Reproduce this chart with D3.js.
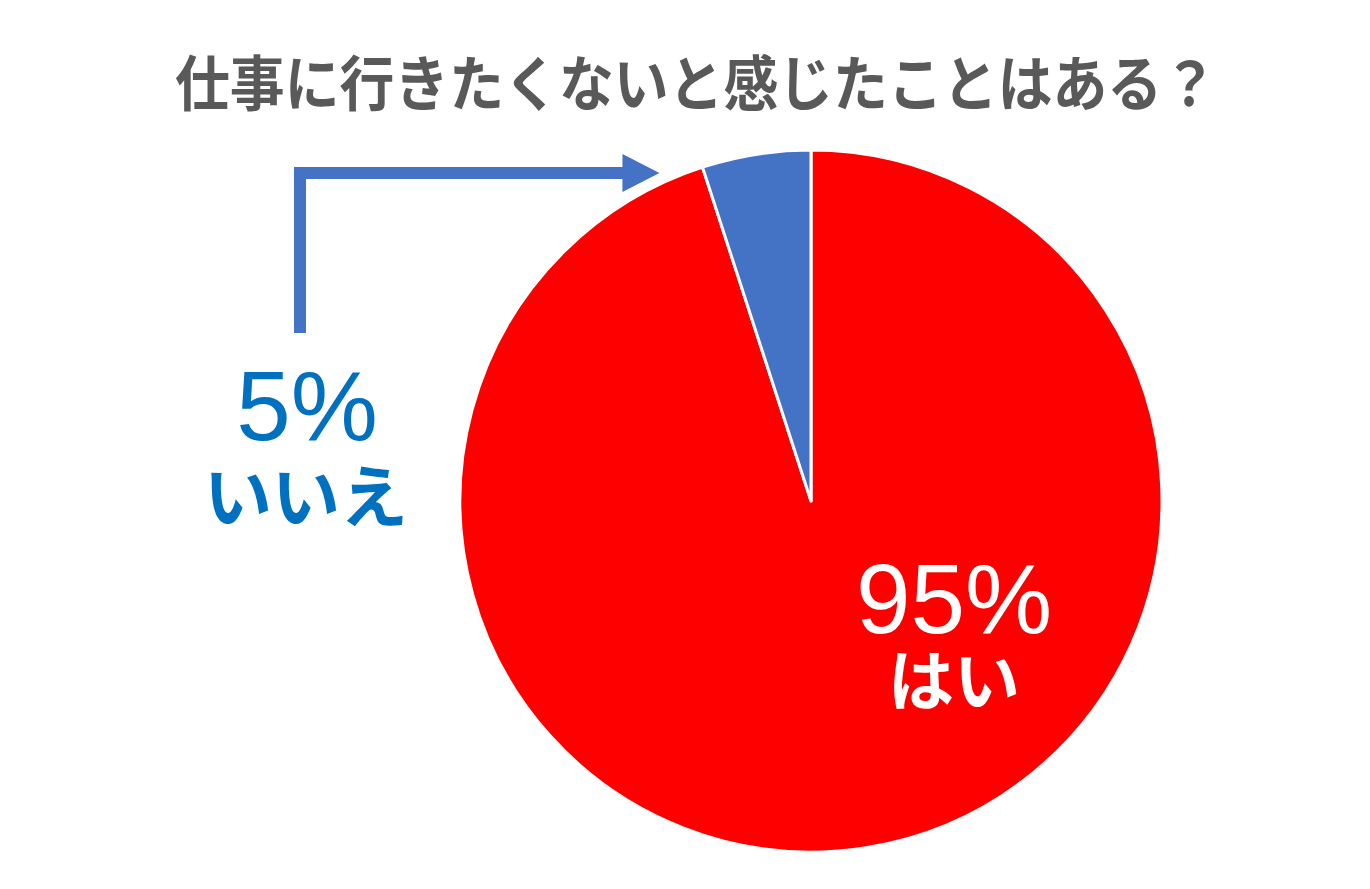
<!DOCTYPE html>
<html>
<head>
<meta charset="utf-8">
<script src="https://cdn.jsdelivr.net/npm/d3@7"></script>
<style>
  body { margin: 0; background: #fff; }
  svg { display: block; }
</style>
</head>
<body>
<div id="chart"></div>
<script>
// Data
var categories = ['はい', 'いいえ'];
var values = [95, 5];
var percentLabels = ['95%', '5%'];
var sliceColors = ['#ff0000', '#4472c4'];
var titleText = '仕事に行きたくないと感じたことはある？';

var width = 1370,
    height = 889;

var cx = 811, cy = 501, radius = 351;

var svg = d3.select('#chart')
            .append('svg')
            .attr('width', width)
            .attr('height', height);

// Title
svg.append('text')
   .attr('x', 175)
   .attr('y', 106)
   .attr('textLength', 1042)
   .attr('lengthAdjust', 'spacingAndGlyphs')
   .attr('font-family', '"Noto Sans CJK JP", sans-serif')
   .attr('font-weight', 'bold')
   .attr('font-size', 60)
   .attr('fill', '#595959')
   .text(titleText);

var data = categories.map(function(c, i) {
  return { name: c, value: values[i], label: percentLabels[i], color: sliceColors[i] };
});

var pie = d3.pie()
            .sort(null)
            .value(function(d) { return d.value; });

var arc = d3.arc()
            .innerRadius(0)
            .outerRadius(radius);

var g = svg.append('g')
           .attr('transform', 'translate(' + cx + ',' + cy + ')');

var arcs = pie(data);

g.selectAll('path')
  .data(arcs)
  .enter()
  .append('path')
  .attr('d', arc)
  .attr('fill', function(d) { return d.data.color; })
  .attr('stroke', '#fff')
  .attr('stroke-width', 3)
  .attr('stroke-linejoin', 'round');

// Labels for the big slice sit inside it
var inside = g.append('g')
              .attr('transform', 'translate(143,0)')
              .attr('text-anchor', 'middle')
              .attr('fill', '#fff');

inside.append('text')
      .attr('y', 132)
      .attr('font-family', '"Liberation Sans", Arial, sans-serif')
      .attr('font-size', 98)
      .text(arcs[0].data.label);

inside.append('text')
      .attr('y', 204)
      .attr('font-family', '"Noto Sans CJK JP", sans-serif')
      .attr('font-weight', 'bold')
      .attr('font-size', 66)
      .text(arcs[0].data.name);

// Callout for the small slice
var small = arcs[1];
var edge = d3.pointRadial(small.startAngle, radius + 10);
var tipX = cx + edge[0] - 40,
    tipY = 173;
var armX = 300,
    armBottom = 333;

svg.append('path')
   .attr('d', 'M' + armX + ',' + armBottom + 'V' + tipY + 'H' + (tipX - 36))
   .attr('fill', 'none')
   .attr('stroke', '#4472c4')
   .attr('stroke-width', 12)
   .attr('stroke-linejoin', 'miter');

svg.append('path')
   .attr('d', 'M' + (tipX - 37) + ',' + (tipY - 19) +
              'L' + tipX + ',' + tipY +
              'L' + (tipX - 37) + ',' + (tipY + 19) + 'Z')
   .attr('fill', '#4472c4');

var outside = svg.append('g')
                 .attr('text-anchor', 'middle')
                 .attr('fill', '#0070c0');

outside.append('text')
       .attr('x', 307)
       .attr('y', 440)
       .attr('font-family', '"Liberation Sans", Arial, sans-serif')
       .attr('font-size', 98)
       .text(small.data.label);

outside.append('text')
       .attr('x', 306)
       .attr('y', 522)
       .attr('font-family', '"Noto Sans CJK JP", sans-serif')
       .attr('font-weight', 'bold')
       .attr('font-size', 68)
       .text(small.data.name);
</script>
</body>
</html>
